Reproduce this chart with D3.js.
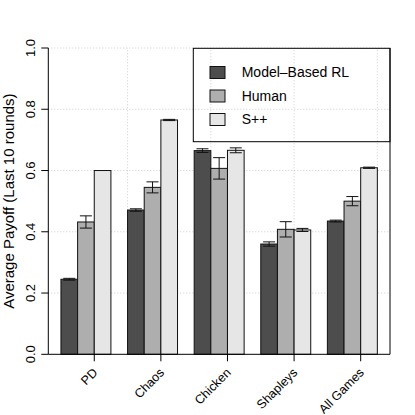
<!DOCTYPE html>
<html>
<head>
<meta charset="utf-8">
<script src="https://cdn.jsdelivr.net/npm/d3@7"></script>
<style>
  html, body { margin: 0; padding: 0; background: #fff; }
  svg { display: block; font-family: "Liberation Sans", Arial, Helvetica, sans-serif; }
</style>
</head>
<body>
<div id="chart"></div>
<script>
// Games along the x axis, one bar per agent type
const games = ["PD", "Chaos", "Chicken", "Shapleys", "All Games"];
const agents = ["Model\u2013Based RL", "Human", "S++"];

// mean payoff over the last 10 rounds, and the error-bar half widths
const mbrl     = [0.245, 0.471, 0.665, 0.360, 0.435];
const mbrlErr  = [0.003, 0.004, 0.006, 0.007, 0.003];
const human    = [0.432, 0.545, 0.607, 0.408, 0.500];
const humanErr = [0.020, 0.018, 0.035, 0.025, 0.015];
const spp      = [0.600, 0.765, 0.666, 0.406, 0.609];
const sppErr   = [0.000, 0.002, 0.008, 0.005, 0.002];

const yTicks = [0, 0.2, 0.4, 0.6, 0.8, 1.0];
const gridX = [5, 10, 15, 20];   // R grid() positions in bar units

const fills = ["#4D4D4D", "#AEAEAE", "#E6E6E6"];  // gray.colors(3)
const values = [mbrl, human, spp];
const errors = [mbrlErr, humanErr, sppErr];

const W = 415, H = 415;
const svg = d3.select("#chart").append("svg").attr("width", W).attr("height", H);

// x in barplot units: group g, bar i spans [4g+1+i, 4g+2+i]
const x = d3.scaleLinear().domain([0.24, 20.76]).range([48.3, 390]);
const y = d3.scaleLinear().domain([0, 1]).range([354.3, 48]);

const bars = [];
games.forEach((game, g) => {
  agents.forEach((a, i) => {
    bars.push({ game, g, i, v: values[i][g], e: errors[i][g], u0: 4 * g + 1 + i });
  });
});

// dotted grid
const grid = svg.append("g").attr("stroke", "#cfcfcf").attr("stroke-dasharray", "1,2").attr("stroke-width", 1);
grid.selectAll("line.h").data(yTicks.filter(t => t > 0)).join("line").attr("class", "h")
  .attr("x1", x.range()[0]).attr("x2", x.range()[1])
  .attr("y1", d => y(d)).attr("y2", d => y(d));
grid.selectAll("line.v").data(gridX).join("line").attr("class", "v")
  .attr("x1", d => x(d)).attr("x2", d => x(d))
  .attr("y1", y(0)).attr("y2", y(1));

// bars
svg.append("g").selectAll("rect").data(bars).join("rect")
  .attr("x", d => x(d.u0)).attr("width", d => x(d.u0 + 1) - x(d.u0))
  .attr("y", d => y(d.v)).attr("height", d => y(0) - y(d.v))
  .attr("fill", d => fills[d.i]).attr("stroke", "#111").attr("stroke-width", 1);

// error bars
const eb = svg.append("g").attr("stroke", "#111").attr("stroke-width", 1).attr("fill", "none");
eb.selectAll("path").data(bars.filter(d => d.e > 0)).join("path")
  .attr("d", d => {
    const cx = x(d.u0 + 0.5), hw = 6;
    const top = y(d.v + d.e), bot = y(d.v - d.e);
    return `M${cx - hw},${top}H${cx + hw}M${cx},${top}V${bot}M${cx - hw},${bot}H${cx + hw}`;
  });

// frame: left, bottom, right
const frame = svg.append("g").attr("stroke", "#000").attr("stroke-width", 1).attr("fill", "none");
frame.append("path")
  .attr("d", `M${x.range()[0]},${y(1)}V${y(0)}H${x.range()[1]}V${y(1)}`);

// y axis ticks + rotated labels
const yAx = svg.append("g");
yAx.selectAll("line").data(yTicks).join("line")
  .attr("x1", x.range()[0] - 7).attr("x2", x.range()[0])
  .attr("y1", d => y(d)).attr("y2", d => y(d)).attr("stroke", "#000");
yAx.selectAll("text").data(yTicks).join("text")
  .attr("transform", d => `translate(35,${y(d)}) rotate(-90)`)
  .attr("text-anchor", "middle").attr("font-size", 13).attr("fill", "#000")
  .text(d => d3.format(".1f")(d));

svg.append("text")
  .attr("transform", `translate(13.5,${(y(0) + y(1)) / 2}) rotate(-90)`)
  .attr("text-anchor", "middle").attr("font-size", 15).attr("fill", "#000")
  .text("Average Payoff (Last 10 rounds)");

// x axis ticks + 45° labels
const xAx = svg.append("g");
xAx.selectAll("line").data(games).join("line")
  .attr("x1", (d, g) => x(4 * g + 3)).attr("x2", (d, g) => x(4 * g + 3))
  .attr("y1", y(0)).attr("y2", y(0) + 7).attr("stroke", "#000");
xAx.selectAll("text").data(games).join("text")
  .attr("transform", (d, g) => `translate(${x(4 * g + 3) + 1},${y(0) + 16}) rotate(-45)`)
  .attr("text-anchor", "end").attr("dy", "0.35em").attr("font-size", 12.5).attr("fill", "#000")
  .text(d => d);

// legend (no fill, grid shows through)
const lg = svg.append("g");
lg.append("rect").attr("x", 193.3).attr("y", 48.3).attr("width", 390 - 193.3).attr("height", 141.7 - 48.3)
  .attr("fill", "none").attr("stroke", "#000");
const rows = lg.selectAll("g.row").data(agents).join("g").attr("class", "row")
  .attr("transform", (d, i) => `translate(0,${72.5 + i * 23.5})`);
rows.append("rect").attr("x", 210).attr("y", -6).attr("width", 15).attr("height", 12)
  .attr("fill", (d, i) => fills[i]).attr("stroke", "#111");
rows.append("text").attr("x", 241.7).attr("dy", "0.35em").attr("font-size", 14).attr("fill", "#000")
  .text(d => d);
</script>
</body>
</html>
